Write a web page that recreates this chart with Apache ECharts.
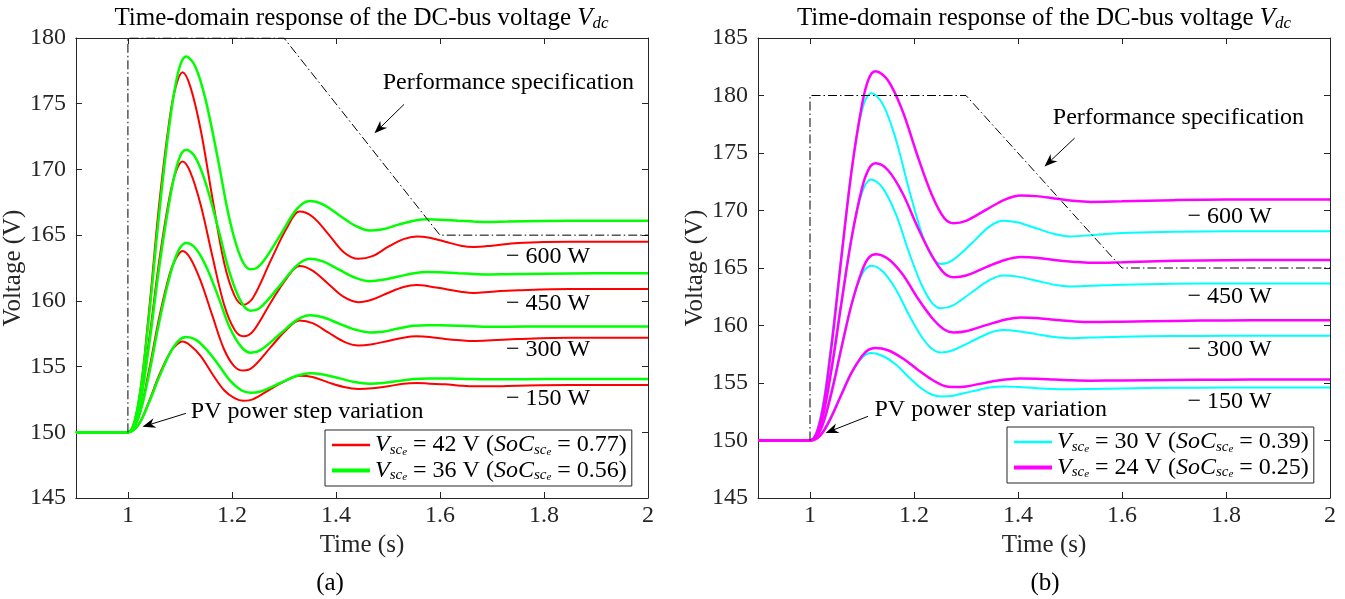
<!DOCTYPE html>
<html>
<head>
<meta charset="utf-8">
<script src="https://cdn.jsdelivr.net/npm/echarts@6/dist/echarts.min.js"></script>
<style>
  html, body { margin: 0; padding: 0; background: #fff; }
  #chart { width: 1345px; height: 599px; }
</style>
</head>
<body>
<div id="chart"></div>
<script>
// ---- data ----
const xTicks = [1, 1.2, 1.4, 1.6, 1.8, 2];

// panel (a): Vsce = 42 V (red) and 36 V (green)
const tRedA = [0.9, 0.98, 1.0, 1.02, 1.04, 1.06, 1.08, 1.092, 1.105, 1.12, 1.14, 1.163, 1.185, 1.205, 1.222, 1.24, 1.275, 1.305, 1.33, 1.355, 1.385, 1.415, 1.443, 1.47, 1.5, 1.53, 1.555, 1.58, 1.61, 1.64, 1.665, 1.7, 1.75, 1.85, 2.0];
const red600A = [150, 150, 150, 152.2, 159.0, 167.3, 173.8, 176.3, 177.4, 176.3, 173.0, 167.7, 162.9, 160.4, 159.7, 160.2, 163.1, 165.5, 166.8, 166.4, 165.1, 163.7, 163.2, 163.4, 164.1, 164.7, 164.9, 164.8, 164.5, 164.2, 164.1, 164.2, 164.4, 164.5, 164.5];
const red450A = [150, 150, 150, 151.6, 156.8, 163.0, 167.9, 169.8, 170.6, 169.8, 167.3, 163.3, 159.7, 157.8, 157.3, 157.65, 159.9, 161.7, 162.65, 162.3, 161.3, 160.3, 159.9, 160.1, 160.6, 161.05, 161.2, 161.1, 160.9, 160.7, 160.6, 160.7, 160.8, 160.9, 160.9];
const red300A = [150, 150, 150, 151.1, 154.6, 158.7, 162.0, 163.2, 163.8, 163.25, 161.5, 158.8, 156.3, 155.0, 154.7, 154.95, 156.5, 157.8, 158.5, 158.3, 157.6, 156.9, 156.6, 156.7, 156.95, 157.2, 157.3, 157.25, 157.1, 157.0, 156.95, 157.0, 157.1, 157.2, 157.2];
const red150A = [150, 150, 150, 150.55, 152.3, 154.35, 156.0, 156.6, 156.9, 156.6, 155.8, 154.4, 153.2, 152.6, 152.4, 152.5, 153.3, 153.95, 154.3, 154.2, 153.8, 153.45, 153.3, 153.35, 153.5, 153.7, 153.75, 153.7, 153.65, 153.55, 153.5, 153.5, 153.55, 153.6, 153.6];

const tGreenA = [0.9, 0.98, 1.0, 1.02, 1.04, 1.06, 1.08, 1.097, 1.112, 1.13, 1.15, 1.173, 1.196, 1.218, 1.236, 1.255, 1.293, 1.325, 1.35, 1.375, 1.407, 1.438, 1.465, 1.49, 1.52, 1.55, 1.576, 1.6, 1.635, 1.665, 1.69, 1.73, 1.8, 1.9, 2.0];
const green600A = [150, 150, 150, 152.15, 158.6, 166.6, 173.45, 177.45, 178.6, 177.8, 175.2, 170.8, 166.1, 163.2, 162.4, 162.75, 165.0, 167.0, 167.6, 167.35, 166.5, 165.7, 165.35, 165.45, 165.8, 166.1, 166.2, 166.18, 166.1, 166.04, 166.0, 166.03, 166.08, 166.1, 166.1];
const green450A = [150, 150, 150, 151.6, 156.45, 162.5, 167.6, 170.65, 171.5, 170.9, 168.9, 165.6, 162.1, 159.9, 159.25, 159.5, 161.2, 162.7, 163.2, 163.0, 162.35, 161.75, 161.5, 161.6, 161.85, 162.1, 162.2, 162.18, 162.1, 162.05, 162.0, 162.03, 162.07, 162.1, 162.1];
const green300A = [150, 150, 150, 151.1, 154.3, 158.35, 161.8, 163.8, 164.4, 164.0, 162.65, 160.4, 157.95, 156.5, 156.05, 156.25, 157.5, 158.55, 158.9, 158.75, 158.25, 157.8, 157.6, 157.65, 157.9, 158.1, 158.15, 158.14, 158.1, 158.06, 158.03, 158.03, 158.05, 158.05, 158.05];
const green150A = [150, 150, 150, 150.55, 152.2, 154.2, 155.95, 156.95, 157.25, 157.05, 156.35, 155.2, 153.95, 153.2, 153.0, 153.1, 153.75, 154.3, 154.5, 154.4, 154.1, 153.8, 153.7, 153.75, 153.9, 154.05, 154.1, 154.1, 154.07, 154.05, 154.03, 154.03, 154.05, 154.05, 154.05];

// panel (b): Vsce = 30 V (cyan) and 24 V (magenta)
const tCyanB = [0.9, 0.98, 1.0, 1.02, 1.04, 1.06, 1.08, 1.1, 1.118, 1.14, 1.165, 1.19, 1.215, 1.235, 1.252, 1.275, 1.31, 1.345, 1.372, 1.4, 1.435, 1.47, 1.5, 1.54, 1.6, 1.7, 1.8, 1.9, 2.0];
const cyan600B = [150, 150, 150, 152.0, 158.15, 166.0, 173.55, 178.7, 180.2, 179.25, 176.2, 171.9, 168.0, 165.95, 165.35, 165.7, 167.1, 168.6, 169.1, 168.95, 168.45, 167.95, 167.75, 167.85, 168.05, 168.15, 168.2, 168.2, 168.2];
const cyan450B = [150, 150, 150, 151.5, 156.1, 162.0, 167.7, 171.55, 172.7, 171.95, 169.7, 166.4, 163.5, 161.95, 161.5, 161.75, 162.85, 163.95, 164.35, 164.25, 163.9, 163.55, 163.4, 163.45, 163.55, 163.62, 163.65, 163.65, 163.65];
const cyan300B = [150, 150, 150, 151.0, 154.1, 158.05, 161.85, 164.45, 165.2, 164.7, 163.15, 160.95, 159.0, 157.95, 157.65, 157.85, 158.6, 159.35, 159.6, 159.5, 159.25, 159.0, 158.9, 158.95, 159.03, 159.08, 159.1, 159.1, 159.1];
const cyan150B = [150, 150, 150, 150.5, 152.05, 154.0, 155.95, 157.2, 157.6, 157.35, 156.6, 155.5, 154.5, 153.98, 153.83, 153.9, 154.25, 154.6, 154.7, 154.65, 154.55, 154.48, 154.45, 154.48, 154.53, 154.58, 154.6, 154.6, 154.6];

const tMagB = [0.9, 0.98, 1.0, 1.02, 1.04, 1.06, 1.08, 1.1, 1.113, 1.126, 1.15, 1.178, 1.206, 1.234, 1.258, 1.276, 1.3, 1.34, 1.375, 1.405, 1.435, 1.47, 1.505, 1.54, 1.6, 1.7, 1.8, 1.9, 2.0];
const mag600B = [150, 150, 150, 151.75, 157.7, 165.75, 173.45, 179.2, 181.45, 182.1, 181.3, 178.65, 174.85, 171.4, 169.35, 168.9, 169.1, 170.1, 170.95, 171.3, 171.25, 171.05, 170.85, 170.75, 170.8, 170.9, 170.95, 170.95, 170.95];
const mag450B = [150, 150, 150, 151.3, 155.8, 161.8, 167.6, 171.95, 173.6, 174.1, 173.5, 171.5, 168.65, 166.1, 164.55, 164.2, 164.35, 165.1, 165.7, 165.95, 165.9, 165.7, 165.55, 165.45, 165.5, 165.62, 165.68, 165.7, 165.7];
const mag300B = [150, 150, 150, 150.9, 153.9, 157.95, 161.85, 164.75, 165.9, 166.2, 165.8, 164.45, 162.45, 160.7, 159.65, 159.4, 159.5, 160.05, 160.5, 160.7, 160.65, 160.5, 160.37, 160.3, 160.33, 160.4, 160.44, 160.45, 160.45];
const mag150B = [150, 150, 150, 150.45, 151.95, 153.95, 155.9, 157.35, 157.9, 158.05, 157.85, 157.15, 156.2, 155.3, 154.75, 154.65, 154.7, 155.05, 155.3, 155.4, 155.38, 155.3, 155.23, 155.2, 155.22, 155.27, 155.29, 155.3, 155.3];

// performance specification envelope (same in both panels)
const specT = [1, 1, 1.3, 1.6, 2];
const specV = [150, 180, 180, 165, 165];

const powerLabels = ["\u2212 600 W", "\u2212 450 W", "\u2212 300 W", "\u2212 150 W"];

// ---- chart ----
const FONT = "'Liberation Serif', 'Times New Roman', serif";
const AXC = "#262626";
const FS = 24;
const chart = echarts.init(document.getElementById("chart"));

function pairs(ts, vs) {
	return ts.map((t, i) => [t, vs[i]]);
}

function curve(name, g, ts, vs, color, width) {
	return {
		name: name,
		type: "line",
		xAxisIndex: g * 2,
		yAxisIndex: g * 2,
		data: pairs(ts, vs),
		smooth: 0.35,
		symbol: "none",
		showSymbol: false,
		lineStyle: { color: color, width: width },
		itemStyle: { color: color },
		animation: false,
		z: 3,
	};
}

function spec(g) {
	return {
		name: "spec" + g,
		type: "line",
		xAxisIndex: g * 2,
		yAxisIndex: g * 2,
		data: pairs(specT, specV),
		symbol: "none",
		lineStyle: { color: "#000", width: 1, type: [9, 3, 1.5, 3] },
		animation: false,
		z: 5,
	};
}

function xAxes(g) {
	return [
		{
			gridIndex: g, type: "value", min: 0.9, max: 2, position: "bottom",
			axisLine: { lineStyle: { color: AXC } },
			axisTick: { inside: true, length: 6, customValues: xTicks, lineStyle: { color: AXC } },
			axisLabel: { customValues: xTicks, formatter: (v) => String(v), fontFamily: FONT, fontSize: FS, color: AXC, margin: 6 },
			splitLine: { show: false },
			name: "Time (s)", nameLocation: "middle", nameGap: 32,
			nameTextStyle: { fontFamily: FONT, fontSize: 25, color: AXC },
		},
		{
			gridIndex: g, type: "value", min: 0.9, max: 2, position: "top",
			axisLine: { lineStyle: { color: AXC } },
			axisTick: { inside: true, length: 6, customValues: xTicks, lineStyle: { color: AXC } },
			axisLabel: { show: false },
			splitLine: { show: false },
		},
	];
}

function yAxes(g, max) {
	return [
		{
			gridIndex: g, type: "value", min: 145, max: max, interval: 5, position: "left",
			axisLine: { show: true, lineStyle: { color: AXC } },
			axisTick: { show: true, inside: true, length: 6, lineStyle: { color: AXC } },
			axisLabel: { fontFamily: FONT, fontSize: FS, color: AXC, margin: 10 },
			splitLine: { show: false },
			name: "Voltage (V)", nameLocation: "middle", nameGap: 43,
			nameTextStyle: { fontFamily: FONT, fontSize: 25, color: AXC },
		},
		{
			gridIndex: g, type: "value", min: 145, max: max, interval: 5, position: "right",
			axisLine: { show: true, lineStyle: { color: AXC } },
			axisTick: { show: true, inside: true, length: 6, lineStyle: { color: AXC } },
			axisLabel: { show: false },
			splitLine: { show: false },
		},
	];
}

const rich = {
	n: { fontFamily: FONT, fontSize: 24, lineHeight: 25, color: "#000" },
	i: { fontFamily: FONT, fontSize: 24, lineHeight: 25, fontStyle: "italic", color: "#000" },
	s: { fontFamily: FONT, fontSize: 15, lineHeight: 15, fontStyle: "italic", verticalAlign: "bottom", color: "#000" },
	e: { fontFamily: FONT, fontSize: 11, lineHeight: 9, fontStyle: "italic", verticalAlign: "bottom", color: "#000" },
};
function vsce(v, soc) {
	return "{i|V}{s|sc}{e|e}{n| = " + v + " V (}{i|SoC}{s|sc}{e|e}{n| = " + soc + ")}";
}
const legendText = {
	r42: vsce(42, "0.77"),
	g36: vsce(36, "0.56"),
	c30: vsce(30, "0.39"),
	m24: vsce(24, "0.25"),
};

function legend(left, top, names) {
	return {
		left: left, top: top, orient: "vertical",
		data: names.map((n, k) => ({ name: n, lineStyle: { width: k === 0 ? 2.5 : 4 }, itemStyle: { opacity: 0, borderWidth: 0 } })),
		itemStyle: { opacity: 0, borderWidth: 0 },
		itemWidth: 38, itemHeight: 14, itemGap: 1,
		padding: [3, 5, 3, 5],
		borderColor: AXC, borderWidth: 1, backgroundColor: "#fff",
		selectedMode: false,
		formatter: (n) => legendText[n],
		textStyle: { fontFamily: FONT, fontSize: 24, color: "#000", rich: rich },
	};
}

const series = [];
[red600A, red450A, red300A, red150A].forEach((v) => series.push(curve("r42", 0, tRedA, v, "#ff0000", 2)));
[green600A, green450A, green300A, green150A].forEach((v) => series.push(curve("g36", 0, tGreenA, v, "#00ff00", 2.5)));
[cyan600B, cyan450B, cyan300B, cyan150B].forEach((v) => series.push(curve("c30", 1, tCyanB, v, "#00ffff", 2)));
[mag600B, mag450B, mag300B, mag150B].forEach((v) => series.push(curve("m24", 1, tMagB, v, "#ff00ff", 2.5)));
series.push(spec(0), spec(1));

chart.setOption({
	backgroundColor: "#fff",
	animation: false,
	grid: [
		{ left: 75, top: 38, width: 573, height: 460 },
		{ left: 758, top: 38, width: 572, height: 460 },
	],
	xAxis: xAxes(0).concat(xAxes(1)),
	yAxis: yAxes(0, 180).concat(yAxes(1, 185)),
	legend: [legend(325, 430, ["r42", "g36"]), legend(1007, 427, ["c30", "m24"])],
	series: series,
});

// ---- annotations (placed in data coordinates) ----
const notes = [
	{ g: 0, spec: [1.49, 176.6], specArrow: [[1.531, 174.95], [1.474, 172.75]], pv: [1.121, 151.56], pvArrow: [[1.1115, 151.44], [1.028, 150.42]], labT: 1.727, labV: [163.36, 159.8, 156.25, 152.58] },
	{ g: 1, spec: [1.467, 178.07], specArrow: [[1.509, 176.3], [1.451, 173.83]], pv: [1.124, 152.68], pvArrow: [[1.1115, 152.1], [1.03, 150.65]], labT: 1.726, labV: [169.49, 162.53, 157.9, 153.4] },
];

function px(g, p) {
	return chart.convertToPixel({ gridIndex: g }, p);
}

function arrow(p0, p1) {
	const dx = p1[0] - p0[0], dy = p1[1] - p0[1];
	const L = Math.hypot(dx, dy);
	const ux = dx / L, uy = dy / L, nx = -uy, ny = ux;
	const hl = 13, hw = 5, nb = 9;
	const bx = p1[0] - ux * hl, by = p1[1] - uy * hl;
	return [
		{ type: "line", shape: { x1: p0[0], y1: p0[1], x2: p1[0] - ux * nb, y2: p1[1] - uy * nb }, style: { stroke: "#000", lineWidth: 1 }, z: 10 },
		{ type: "polygon", shape: { points: [p1, [bx + nx * hw, by + ny * hw], [p1[0] - ux * nb, p1[1] - uy * nb], [bx - nx * hw, by - ny * hw]] }, style: { fill: "#000" }, z: 10 },
	];
}

function label(p, text, align, size) {
	return { type: "text", x: p[0], y: p[1], z: 10, style: { text: text, fontFamily: FONT, fontSize: size || FS, fill: "#000", align: align || "left", verticalAlign: "middle" } };
}

const graphics = [];
notes.forEach((n) => {
	graphics.push(label(px(n.g, n.spec), "Performance specification"));
	graphics.push(...arrow(px(n.g, n.specArrow[0]), px(n.g, n.specArrow[1])));
	graphics.push(label(px(n.g, n.pv), "PV power step variation"));
	graphics.push(...arrow(px(n.g, n.pvArrow[0]), px(n.g, n.pvArrow[1])));
	n.labV.forEach((v, k) => graphics.push(label(px(n.g, [n.labT, v]), powerLabels[k], "left", 24)));
});

// titles and panel tags
const titleRich = {
	i: { fontFamily: FONT, fontSize: 25, lineHeight: 28, fontStyle: "italic", fill: "#000" },
	s: { fontFamily: FONT, fontSize: 17, lineHeight: 16, fontStyle: "italic", verticalAlign: "bottom", fill: "#000" },
};
[361.5, 1044].forEach((cx) => {
	graphics.push({
		type: "text", x: cx, y: 18, z: 10,
		style: { text: "Time-domain response of the DC-bus voltage {i|V}{s|dc}", rich: titleRich, fontFamily: FONT, fontSize: 25, lineHeight: 28, fill: "#000", align: "center", verticalAlign: "middle" },
	});
});
graphics.push(label([330, 583], "(a)", "center", 25));
graphics.push(label([1045, 583], "(b)", "center", 25));

chart.setOption({ graphic: graphics });
</script>
</body>
</html>
